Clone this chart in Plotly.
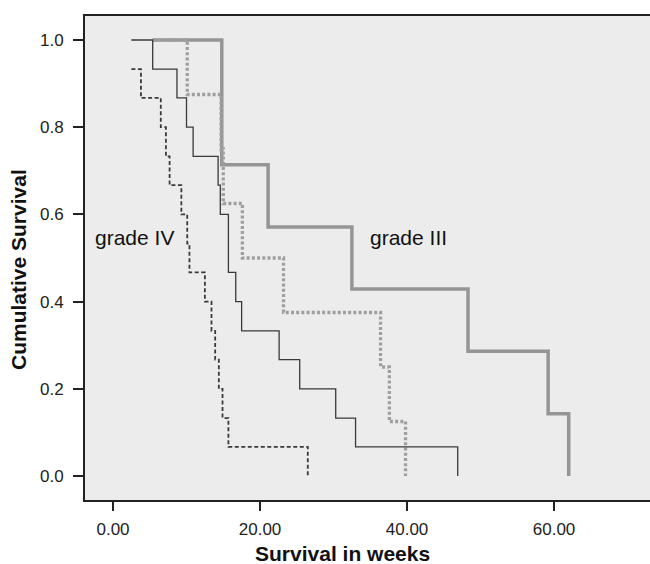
import plotly.graph_objects as go

# Kaplan-Meier step data (time in weeks, cumulative survival)
g3_time = [5.4, 14.8, 21.1, 32.5, 48.3, 59.2, 62.0]
g3_surv = [1.0, 0.714, 0.571, 0.429, 0.286, 0.143, 0.0]

g3b_time = [5.4, 10.1, 14.7, 15.0, 17.6, 23.2, 36.4, 37.6, 39.8]
g3b_surv = [1.0, 0.875, 0.75, 0.625, 0.5, 0.375, 0.25, 0.125, 0.0]

g4_time = [2.5, 5.4, 8.7, 10.0, 10.9, 14.3, 14.6, 15.7, 16.7, 17.5, 22.6, 25.4, 30.3, 33.0, 46.9]
g4_surv = [1.0, 0.933, 0.867, 0.8, 0.733, 0.667, 0.6, 0.467, 0.4, 0.333, 0.267, 0.2, 0.133, 0.067, 0.0]

g4b_time = [2.5, 3.8, 6.5, 7.2, 7.7, 9.3, 10.1, 10.4, 12.5, 13.4, 13.9, 14.4, 14.9, 15.7, 26.5]
g4b_surv = [0.933, 0.867, 0.8, 0.733, 0.667, 0.6, 0.533, 0.467, 0.4, 0.333, 0.267, 0.2, 0.133, 0.067, 0.0]

x_ticks = [0, 20, 40, 60]
x_ticktext = ["0.00", "20.00", "40.00", "60.00"]
y_ticks = [0.0, 0.2, 0.4, 0.6, 0.8, 1.0]
y_ticktext = ["0.0", "0.2", "0.4", "0.6", "0.8", "1.0"]

FONT = "Liberation Sans, Arial, sans-serif"
W, H = 650, 564
ML, MR, MT, MB = 85, 0, 16, 64
PW, PH = W - ML - MR, H - MT - MB

fig = go.Figure()
fig.add_trace(go.Scatter(x=g3_time, y=g3_surv, mode="lines", line_shape="hv",
                         line=dict(color="#959595", width=3.5)))
fig.add_trace(go.Scatter(x=g3b_time, y=g3b_surv, mode="lines", line_shape="hv",
                         line=dict(color="#9f9f9f", width=3.3, dash="3px,2.2px")))
fig.add_trace(go.Scatter(x=g4_time, y=g4_surv, mode="lines", line_shape="hv",
                         line=dict(color="#3a3a3a", width=1.3)))
fig.add_trace(go.Scatter(x=g4b_time, y=g4b_surv, mode="lines", line_shape="hv",
                         line=dict(color="#3a3a3a", width=1.8, dash="4px,2.5px")))

fig.add_annotation(x=-2.7, y=0.548, xref="x", yref="y", text="grade IV", showarrow=False,
                   xanchor="left", yanchor="middle", font=dict(family=FONT, size=21, color="#111"))
fig.add_annotation(x=34.7, y=0.548, xref="x", yref="y", text="grade III", showarrow=False,
                   xanchor="left", yanchor="middle", font=dict(family=FONT, size=21, color="#111"))

# axis titles
fig.add_annotation(x=(342 - ML) / PW, y=(H - MB - 553) / PH, xref="paper", yref="paper",
                   text="<b>Survival in weeks</b>", showarrow=False, xanchor="center", yanchor="middle",
                   font=dict(family=FONT, size=21, color="#111"))
fig.add_annotation(x=(18 - ML) / PW, y=(H - MB - 270) / PH, xref="paper", yref="paper",
                   text="<b>Cumulative Survival</b>", showarrow=False, textangle=-90,
                   xanchor="center", yanchor="middle",
                   font=dict(family=FONT, size=21, color="#111"))

fig.update_layout(
    width=W, height=H,
    margin=dict(l=ML, r=MR, t=MT, b=MB, autoexpand=False),
    plot_bgcolor="#ececec", paper_bgcolor="white",
    showlegend=False,
    font=dict(family=FONT, color="#222"),
    xaxis=dict(range=[-3.81, 73.06], tickvals=x_ticks, ticktext=x_ticktext,
               showgrid=False, zeroline=False, showline=True, linecolor="#222", linewidth=2,
               mirror=True, ticks="outside", ticklen=9, tickwidth=2, tickcolor="#222",
               ticklabelstandoff=4, automargin=False,
               tickfont=dict(size=17, family=FONT, color="#222")),
    yaxis=dict(range=[-0.055, 1.055], tickvals=y_ticks, ticktext=y_ticktext,
               showgrid=False, zeroline=False, showline=True, linecolor="#222", linewidth=2,
               mirror=True, ticks="outside", ticklen=10, tickwidth=2, tickcolor="#222",
               ticklabelstandoff=6, automargin=False,
               tickfont=dict(size=17, family=FONT, color="#222")),
)

fig.write_html("out.html", config={"displayModeBar": False},
               post_script="document.body.style.margin='0px';")
